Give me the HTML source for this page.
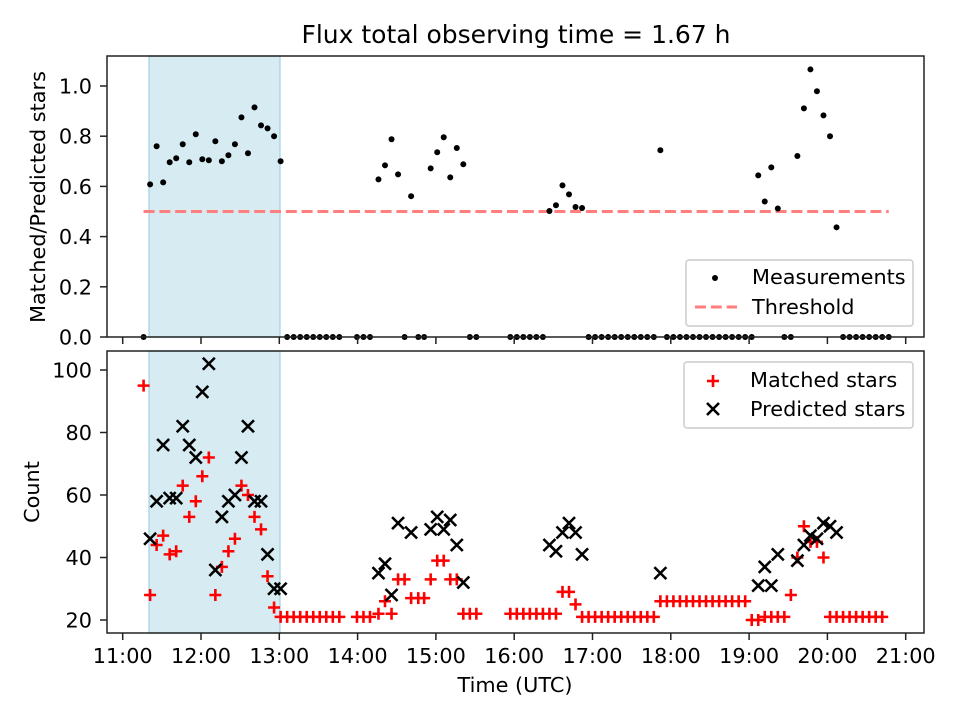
<!DOCTYPE html>
<html><head><meta charset="utf-8"><style>
body{margin:0;background:#fff}
svg text{font-family:"DejaVu Sans","Liberation Sans",sans-serif;fill:#000}
</style></head><body>
<svg id="c" width="960" height="720" xmlns="http://www.w3.org/2000/svg"></svg>
<script>
// minutes after 11:00 UTC
const times=[16,21,26,31,36,41,46,51,56,61,66,71,76,81,86,91,96,101,106,111,116,121,126,131,136,141,146,151,156,161,166,179.5,184.5,189.5,196,201,206,211,216,221,226.5,231,236,241,246,251,256,261,266,271,297,302,307,312,317,322,327,332,337,342,347,352,357,362,367,372,377,382,387,392,397,402,407,412,417,422,427,432,437,442,447,452,457,462,467,472,477,482,487,492,497,502,507,512,517,522,527,532,537,542,547,552,557,562,567,572,577,582,587];
const ratio=[0,.608,.760,.616,.696,.712,.768,.696,.808,.708,.704,.780,.700,.724,.768,.875,.732,.915,.843,.831,.800,.700,0,0,0,0,0,0,0,0,0,0,0,0,.628,.684,.788,.648,0,.561,0,0,.672,.736,.796,.636,.753,.688,0,0,0,0,0,0,0,0,.502,.525,.604,.568,.518,.514,0,0,0,0,0,0,0,0,0,0,0,.744,0,0,0,0,0,0,0,0,0,0,0,0,0,0,.644,.540,.676,.512,0,0,.721,.911,1.066,.979,.883,.80,.437,0,0,0,0,0,0,0,0];
const matched=[95,28,44,47,41,42,63,53,58,66,72,28,37,42,46,63,60,53,49,34,24,21,21,21,21,21,21,21,21,21,21,21,21,21,22,26,22,33,33,27,27,27,33,39,39,33,33,22,22,22,22,22,22,22,22,22,22,22,29,29,25,21,21,21,21,21,21,21,21,21,21,21,21,26,26,26,26,26,26,26,26,26,26,26,26,26,26,20,20,21,21,21,21,28,40,50,45,45,40,21,21,21,21,21,21,21,21,21];
const predicted=[null,46,58,76,59,59,82,76,72,93,102,36,53,58,60,72,82,58,58,41,30,30,null,null,null,null,null,null,null,null,null,null,null,null,35,38,28,51,null,48,null,null,49,53,49,52,44,32,null,null,null,null,null,null,null,null,44,42,48,51,48,41,null,null,null,null,null,null,null,null,null,null,null,35,null,null,null,null,null,null,null,null,null,null,null,null,null,null,31,37,31,41,null,null,39,44,47,46,51,50,48,null,null,null,null,null,null,null,null];
const xTickLabels=["11:00","12:00","13:00","14:00","15:00","16:00","17:00","18:00","19:00","20:00","21:00"];
const ratioTicks=[0,0.2,0.4,0.6,0.8,1.0];
const countTicks=[20,40,60,80,100];
const threshold=0.5;
const span=[20.2,120.5];

const svg=document.getElementById('c');
const NS="http://www.w3.org/2000/svg";
function el(t,a,p){const e=document.createElementNS(NS,t);for(const k in a)e.setAttribute(k,a[k]);(p||svg).appendChild(e);return e;}
const L=107,R=924;
const xOf=m=>122.7+m*1.305;
const yTop=r=>337-r*251;
const yBot=v=>620-(v-20)*3.125;

function panel(top,bot,name){
  const g=el('g',{});
  
  
  const s=el('rect',{x:xOf(span[0]),y:top,width:xOf(span[1])-xOf(span[0]),height:bot-top,fill:'#add8e6','fill-opacity':0.5,stroke:'#add8e6','stroke-width':1.5},g);
  
  
  return g;
}
const gT=panel(56,337,'ratio-panel');
const gB=panel(351,633,'count-panel');

const th=el('line',{x1:xOf(times[0]),x2:xOf(times[times.length-1]),y1:yTop(threshold),y2:yTop(threshold),stroke:'#ff7f7f','stroke-width':3,'stroke-dasharray':'11 4.8'},gT);



times.forEach((t,i)=>{
  const c=el('circle',{cx:xOf(t),cy:yTop(ratio[i]),r:3,fill:'#000'},gT);
  
  
});
times.forEach((t,i)=>{
  const x=xOf(t),y=yBot(matched[i]);
  const p=el('path',{d:`M${x-6} ${y}H${x+6}M${x} ${y-6}V${y+6}`,stroke:'#f00','stroke-width':2.6},gB);
  
  
});
times.forEach((t,i)=>{
  if(predicted[i]==null)return;
  const x=xOf(t),y=yBot(predicted[i]);
  const p=el('path',{d:`M${x-6} ${y-6}L${x+6} ${y+6}M${x-6} ${y+6}L${x+6} ${y-6}`,stroke:'#000','stroke-width':2.6},gB);
  
  
});

[[56,337],[351,633]].forEach(([a,b])=>{
  const f=el('rect',{x:L,y:a,width:R-L,height:b-a,fill:'none',stroke:'#222','stroke-width':1.5});
  
  
});
xTickLabels.forEach((lab,i)=>{
  const x=xOf(i*60);
  el('line',{x1:x,x2:x,y1:337,y2:344,stroke:'#222','stroke-width':1.5});
  el('line',{x1:x,x2:x,y1:633,y2:640,stroke:'#222','stroke-width':1.5});
  const t=el('text',{x:x,y:663,'text-anchor':'middle','font-size':20.8});
  t.textContent=lab;
  
  
});
ratioTicks.forEach(v=>{
  const y=yTop(v);
  el('line',{x1:100,x2:107,y1:y,y2:y,stroke:'#222','stroke-width':1.5});
  const t=el('text',{x:92,y:y+7.5,'text-anchor':'end','font-size':20.8});
  t.textContent=v.toFixed(1);
  
  
});
countTicks.forEach(v=>{
  const y=yBot(v);
  el('line',{x1:100,x2:107,y1:y,y2:y,stroke:'#222','stroke-width':1.5});
  const t=el('text',{x:92,y:y+7.5,'text-anchor':'end','font-size':20.8});
  t.textContent=v;
  
  
});
</script>
<svg width="960" height="720" style="position:absolute;left:0;top:0" xmlns="http://www.w3.org/2000/svg">
<text x="516" y="43" text-anchor="middle" font-size="25">Flux total observing time = 1.67 h</text>
<text transform="translate(45,197) rotate(-90)" text-anchor="middle" font-size="20.8">Matched/Predicted stars</text>
<text transform="translate(39,492) rotate(-90)" text-anchor="middle" font-size="20.8">Count</text>
<text x="515" y="692" text-anchor="middle" font-size="20.8">Time (UTC)</text>
<g>
<rect x="686" y="260" width="227" height="66" rx="3" fill="#fff" fill-opacity="0.8" stroke="#ccc" stroke-width="1.5"/>
<circle cx="715" cy="278" r="3" fill="#000"/>
<text x="752" y="284" font-size="20.8">Measurements</text>
<line x1="695" x2="737" y1="307" y2="307" stroke="#ff7f7f" stroke-width="3" stroke-dasharray="11 4.8"/>
<text x="752" y="314" font-size="20.8">Threshold</text>
</g>
<g>
<rect x="684" y="362" width="229" height="66" rx="3" fill="#fff" fill-opacity="0.8" stroke="#ccc" stroke-width="1.5"/>
<path d="M707 381H719M713 375V387" stroke="#f00" stroke-width="2.6"/>
<text x="750" y="387" font-size="20.8">Matched stars</text>
<path d="M707 403L719 415M707 415L719 403" stroke="#000" stroke-width="2.6"/>
<text x="750" y="416" font-size="20.8">Predicted stars</text>
</g>
</svg>
</body></html>
